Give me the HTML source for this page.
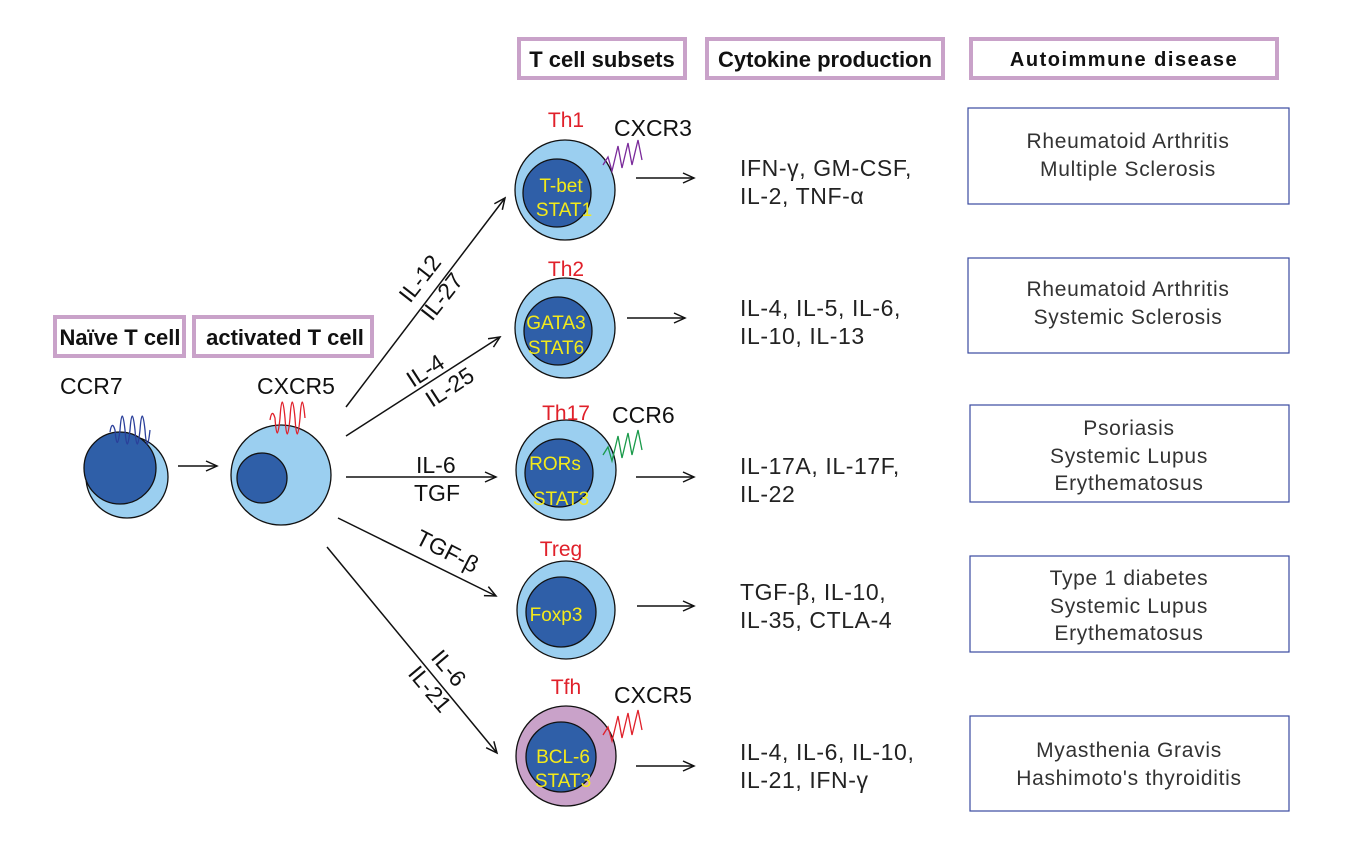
<!DOCTYPE html>
<html><head><meta charset="utf-8"><style>
html,body{margin:0;padding:0;background:#fff}
svg{display:block}
text{font-family:"Liberation Sans",Arial,sans-serif}
</style></head><body>
<svg width="1364" height="857" viewBox="0 0 1364 857" xmlns="http://www.w3.org/2000/svg">
<defs>
<marker id="ah" markerWidth="14" markerHeight="12" refX="12" refY="6" orient="auto" markerUnits="userSpaceOnUse">
<path d="M1,1 L12,6 L1,11" fill="none" stroke="#111" stroke-width="1.5"/>
</marker>
</defs>
<g fill="#fff" stroke="#c9a2c9" stroke-width="4">
<rect x="519" y="39" width="166" height="39"/>
<rect x="707" y="39" width="236" height="39"/>
<rect x="971" y="39" width="306" height="39"/>
<rect x="55" y="317" width="129" height="39"/>
<rect x="194" y="317" width="178" height="39"/>
</g>
<g font-weight="bold" font-size="22" fill="#111">
<text x="602" y="67" text-anchor="middle">T cell subsets</text>
<text x="825" y="67" text-anchor="middle">Cytokine production</text>
<text x="1124" y="66" text-anchor="middle" font-size="20" letter-spacing="1.5">Autoimmune disease</text>
<text x="120" y="345" text-anchor="middle">Naïve T cell</text>
<text x="285" y="345" text-anchor="middle">activated T cell</text>
</g>
<g stroke="#111" stroke-width="1.3">
<circle cx="127" cy="477" r="41" fill="#9bcff0"/>
<circle cx="120" cy="468" r="36" fill="#2f5fa8"/>
<circle cx="281" cy="475" r="50" fill="#9bcff0"/>
<circle cx="262" cy="478" r="25" fill="#2f5fa8"/>
<circle cx="565" cy="190" r="50" fill="#9bcff0"/>
<circle cx="557" cy="193" r="34" fill="#2f5fa8"/>
<circle cx="565" cy="328" r="50" fill="#9bcff0"/>
<circle cx="558" cy="331" r="34" fill="#2f5fa8"/>
<circle cx="566" cy="470" r="50" fill="#9bcff0"/>
<circle cx="559" cy="473" r="34" fill="#2f5fa8"/>
<circle cx="566" cy="610" r="49" fill="#9bcff0"/>
<circle cx="561" cy="612" r="35" fill="#2f5fa8"/>
<circle cx="566" cy="756" r="50" fill="#c9a2c9"/>
<circle cx="561" cy="757" r="35" fill="#2f5fa8"/>
</g>
<g fill="none" stroke-width="1.3">
<path d="M110,432 q2,-12 5,-2 q2,25 5,0 q2,-28 5,0 q2,28 5,0 q2,-28 5,0 q2,28 5,0 q2,-28 5,0 q2,28 5,0" stroke="#2a3f9a"/>
<path d="M270,420 q2,-12 5,-2 q2,30 5,0 q2,-32 5,0 q2,32 5,0 q2,-32 5,0 q2,32 5,0 q2,-32 5,0" stroke="#e0202a"/>
<path d="M603,165 l5,-8 l4,14 l6,-25 l4,22 l6,-25 l4,22 l6,-25 l4,20" stroke="#7a2a9a"/>
<path d="M603,455 l5,-8 l4,14 l6,-25 l4,22 l6,-25 l4,22 l6,-25 l4,20" stroke="#1a9a4a"/>
<path d="M603,735 l5,-8 l4,14 l6,-25 l4,22 l6,-25 l4,22 l6,-25 l4,20" stroke="#e0202a"/>
</g>
<g stroke="#111" stroke-width="1.5" marker-end="url(#ah)">
<line x1="178" y1="466" x2="217" y2="466"/>
<line x1="346" y1="407" x2="505" y2="198"/>
<line x1="346" y1="436" x2="500" y2="337"/>
<line x1="346" y1="477" x2="496" y2="477"/>
<line x1="338" y1="518" x2="496" y2="596"/>
<line x1="327" y1="547" x2="497" y2="753"/>
<line x1="636" y1="178" x2="694" y2="178"/>
<line x1="627" y1="318" x2="685" y2="318"/>
<line x1="636" y1="477" x2="694" y2="477"/>
<line x1="637" y1="606" x2="694" y2="606"/>
<line x1="636" y1="766" x2="694" y2="766"/>
</g>
<g font-size="23" fill="#111">
<text x="60" y="394">CCR7</text>
<text x="257" y="394">CXCR5</text>
<text x="614" y="136">CXCR3</text>
<text x="612" y="423">CCR6</text>
<text x="614" y="703">CXCR5</text>
<text transform="translate(410,304) rotate(-52)">IL-12</text>
<text transform="translate(432,322) rotate(-52)">IL-27</text>
<text transform="translate(413,388) rotate(-33)">IL-4</text>
<text transform="translate(432,408) rotate(-33)">IL-25</text>
<text x="416" y="473">IL-6</text>
<text x="414" y="501">TGF</text>
<text transform="translate(414,543) rotate(27)">TGF-β</text>
<text transform="translate(430,658) rotate(50)">IL-6</text>
<text transform="translate(407,674) rotate(50)">IL-21</text>
</g>
<g font-size="21" fill="#e0202a" text-anchor="middle">
<text x="566" y="127">Th1</text>
<text x="566" y="276">Th2</text>
<text x="566" y="420">Th17</text>
<text x="561" y="556">Treg</text>
<text x="566" y="694">Tfh</text>
</g>
<g font-size="19" fill="#f4ea1a" text-anchor="middle">
<text x="561" y="192">T-bet</text><text x="564" y="216">STAT1</text>
<text x="556" y="329">GATA3</text><text x="556" y="354">STAT6</text>
<text x="555" y="470">RORs</text><text x="561" y="505">STAT3</text>
<text x="556" y="621">Foxp3</text>
<text x="563" y="763">BCL-6</text><text x="563" y="787">STAT3</text>
</g>
<g font-size="23" fill="#222" letter-spacing="0.6">
<text x="740" y="176">IFN-γ, GM-CSF,</text><text x="740" y="204">IL-2, TNF-α</text>
<text x="740" y="316">IL-4, IL-5, IL-6,</text><text x="740" y="344">IL-10, IL-13</text>
<text x="740" y="474">IL-17A, IL-17F,</text><text x="740" y="502">IL-22</text>
<text x="740" y="600">TGF-β, IL-10,</text><text x="740" y="628">IL-35, CTLA-4</text>
<text x="740" y="760">IL-4, IL-6, IL-10,</text><text x="740" y="788">IL-21, IFN-γ</text>
</g>
<g fill="#fff" stroke="#3a4aa0" stroke-width="1.2">
<rect x="968" y="108" width="321" height="96"/>
<rect x="968" y="258" width="321" height="95"/>
<rect x="970" y="405" width="319" height="97"/>
<rect x="970" y="556" width="319" height="96"/>
<rect x="970" y="716" width="319" height="95"/>
</g>
<g font-size="21" fill="#333" text-anchor="middle" letter-spacing="0.7">
<text x="1128" y="148">Rheumatoid Arthritis</text><text x="1128" y="176">Multiple Sclerosis</text>
<text x="1128" y="296">Rheumatoid Arthritis</text><text x="1128" y="324">Systemic Sclerosis</text>
<text x="1129" y="435">Psoriasis</text><text x="1129" y="463">Systemic Lupus</text><text x="1129" y="490">Erythematosus</text>
<text x="1129" y="585">Type 1 diabetes</text><text x="1129" y="613">Systemic Lupus</text><text x="1129" y="640">Erythematosus</text>
<text x="1129" y="757">Myasthenia Gravis</text><text x="1129" y="785">Hashimoto's thyroiditis</text>
</g>
</svg>
</body></html>
